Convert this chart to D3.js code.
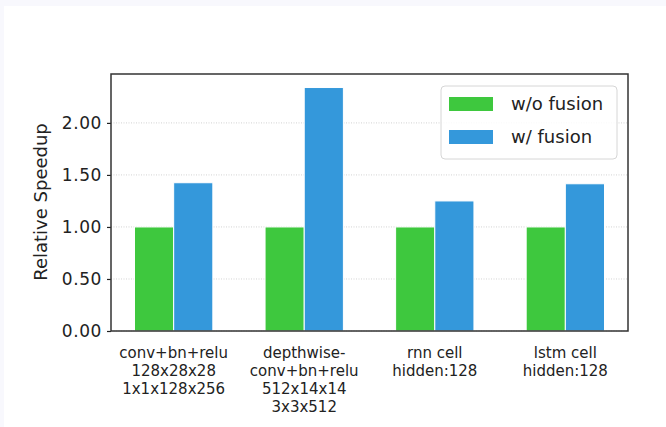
<!DOCTYPE html>
<html>
<head>
<meta charset="utf-8">
<script src="https://cdn.jsdelivr.net/npm/d3@7"></script>
<style>
  html, body { margin: 0; padding: 0; background: #f8f8fd; }
  svg { display: block; font-family: "DejaVu Sans", sans-serif; }
</style>
</head>
<body>
<svg id="chart" width="666" height="427"></svg>
<script>
// 資料
const categories = [
  ["conv+bn+relu", "128x28x28", "1x1x128x256"],
  ["depthwise-", "conv+bn+relu", "512x14x14", "3x3x512"],
  ["rnn cell", "hidden:128"],
  ["lstm cell", "hidden:128"]
];
const seriesNames = ["w/o fusion", "w/ fusion"];
const withoutFusion = [1.0, 1.0, 1.0, 1.0];
const withFusion = [1.425, 2.34, 1.25, 1.415];
const yTicks = [0, 0.5, 1.0, 1.5, 2.0];

const colors = ["#3ec83e", "#3498db"];

const svg = d3.select("#chart");
// 白色底 (外圍留淡色邊)
svg.append("rect").attr("x", 4).attr("y", 6).attr("width", 662).attr("height", 421).attr("fill", "#fff");

const plot = { left: 111, right: 628, top: 74, bottom: 331 };

const x = d3.scaleBand()
  .domain(d3.range(categories.length))
  .range([plot.left, plot.right])
  .paddingInner(0.4)
  .paddingOuter(0.18);
const sub = d3.scaleBand().domain([0, 1]).range([0, x.bandwidth()]);
const y = d3.scaleLinear().domain([0, 2.47]).range([plot.bottom, plot.top]);

// grid
svg.append("g").selectAll("line").data(yTicks).join("line")
  .attr("x1", plot.left).attr("x2", plot.right)
  .attr("y1", d => y(d)).attr("y2", d => y(d))
  .attr("stroke", "#c8c8c8").attr("stroke-width", 0.8)
  .attr("stroke-dasharray", "1,1.5");

// bars
const data = categories.map((c, i) => ({ i, vals: [withoutFusion[i], withFusion[i]] }));
const groups = svg.append("g").selectAll("g").data(data).join("g")
  .attr("transform", d => `translate(${x(d.i)},0)`);
groups.selectAll("rect").data(d => d.vals.map((v, k) => ({ v, k }))).join("rect")
  .attr("x", d => sub(d.k))
  .attr("y", d => y(d.v))
  .attr("width", sub.bandwidth())
  .attr("height", d => y(0) - y(d.v))
  .attr("fill", d => colors[d.k])
  .attr("stroke", "#fff")
  .attr("stroke-width", 1);

// y axis
const yAxis = svg.append("g")
  .attr("transform", `translate(${plot.left},0)`)
  .call(d3.axisLeft(y).tickValues(yTicks).tickFormat(d3.format(".2f")).tickSize(4).tickPadding(5));
yAxis.select(".domain").remove();
yAxis.selectAll(".tick line").attr("stroke", "#222").attr("stroke-width", 1.2);
yAxis.selectAll(".tick text").attr("font-size", 17).attr("fill", "#222")
  .attr("font-family", "DejaVu Sans, sans-serif").attr("letter-spacing", 0.6);

// frame
svg.append("rect")
  .attr("x", plot.left).attr("y", plot.top)
  .attr("width", plot.right - plot.left).attr("height", plot.bottom - plot.top)
  .attr("fill", "none").attr("stroke", "#333").attr("stroke-width", 1.5);

// x labels
const xl = svg.append("g").selectAll("text").data(categories).join("text")
  .attr("x", (d, i) => x(i) + x.bandwidth() / 2)
  .attr("y", 358)
  .attr("text-anchor", "middle")
  .attr("font-size", 15)
  .attr("fill", "#222");
xl.selectAll("tspan").data(d => d).join("tspan")
  .attr("x", function () { return this.parentNode.getAttribute("x"); })
  .attr("dy", (d, j) => j === 0 ? 0 : 18)
  .text(d => d);

// y title
svg.append("text")
  .attr("transform", "translate(47,202) rotate(-90)")
  .attr("text-anchor", "middle")
  .attr("font-size", 18)
  .attr("fill", "#222")
  .text("Relative Speedup");

// legend
const lg = svg.append("g");
lg.append("rect")
  .attr("x", 441).attr("y", 86).attr("width", 176).attr("height", 73)
  .attr("rx", 4).attr("fill", "#fff").attr("fill-opacity", 0.85)
  .attr("stroke", "#d6d6d6").attr("stroke-width", 1);
seriesNames.forEach((name, k) => {
  const cy = 104 + k * 33;
  lg.append("rect").attr("x", 449).attr("y", cy - 7).attr("width", 44).attr("height", 14)
    .attr("fill", colors[k]);
  lg.append("text").attr("x", 511).attr("y", cy).attr("dy", "0.35em")
    .attr("font-size", 18).attr("fill", "#222").text(name);
});
</script>
</body>
</html>
